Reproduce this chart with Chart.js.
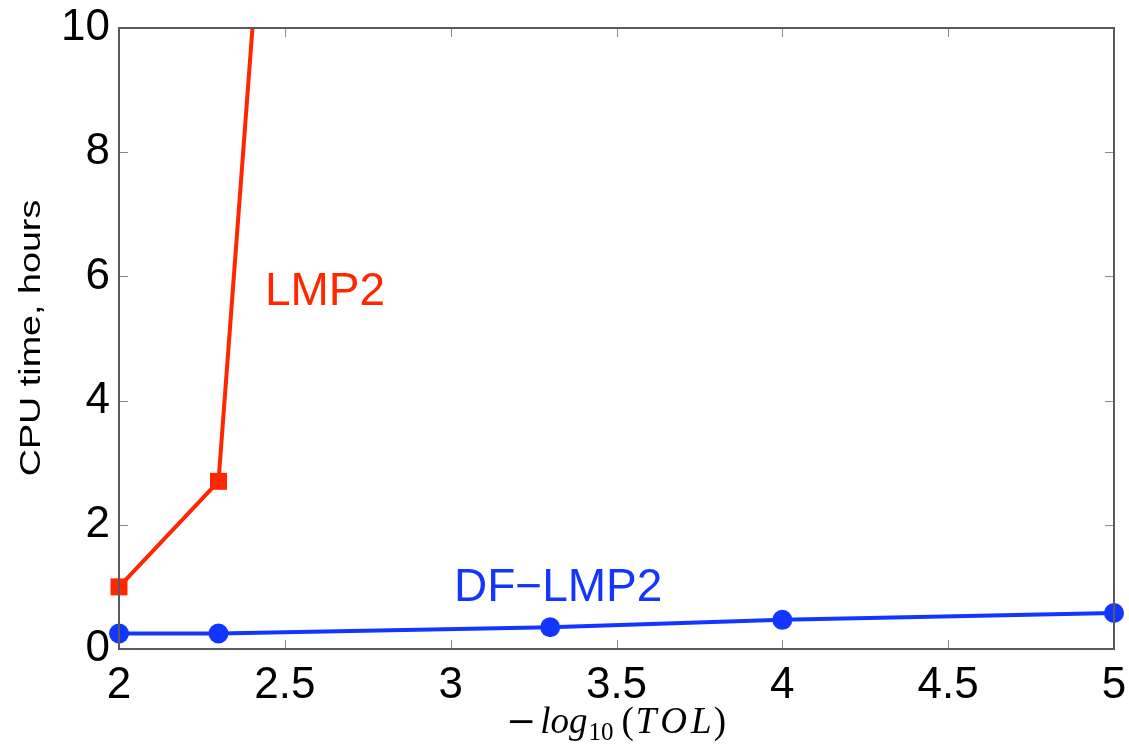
<!DOCTYPE html>
<html>
<head>
<meta charset="utf-8">
<script src="https://cdn.jsdelivr.net/npm/chart.js@4.4.0/dist/chart.umd.min.js"></script>
<style>
  html, body { margin: 0; padding: 0; background: #fff; }
  #wrap { width: 1129px; height: 744px; }
</style>
</head>
<body>
<div id="wrap"><canvas id="grafico" width="1129" height="744"></canvas></div>
<script>
// valores
const tolLmp2 = [2, 2.3, 3.3];
const horasLmp2 = [1.0, 2.7, 74];     // o terceiro ponto sai do gráfico
const tolDf = [2, 2.3, 3.3, 4, 5];
const horasDf = [0.25, 0.25, 0.35, 0.47, 0.58];
const ticksX = [2, 2.5, 3, 3.5, 4, 4.5, 5];
const ticksY = [0, 2, 4, 6, 8, 10];

const VERMELHO = '#ff2600';
const AZUL = '#1236ff';

function pontos(xs, ys) {
  return xs.map((x, i) => ({ x: x, y: ys[i] }));
}

// moldura com ticks para dentro, nos quatro lados
const moldura = {
  id: 'moldura',
  afterDatasetsDraw(chart) {
    const { ctx, chartArea: a, scales } = chart;
    ctx.save();
    ctx.strokeStyle = '#8a8a8a';
    ctx.lineWidth = 1;
    ticksX.forEach(v => {
      const px = Math.round(scales.x.getPixelForValue(v)) + 0.5;
      ctx.beginPath();
      ctx.moveTo(px, a.bottom); ctx.lineTo(px, a.bottom - 9);
      ctx.moveTo(px, a.top); ctx.lineTo(px, a.top + 9);
      ctx.stroke();
    });
    ticksY.forEach(v => {
      const py = Math.round(scales.y.getPixelForValue(v)) + 0.5;
      ctx.beginPath();
      ctx.moveTo(a.left, py); ctx.lineTo(a.left + 9, py);
      ctx.moveTo(a.right, py); ctx.lineTo(a.right - 9, py);
      ctx.stroke();
    });
    ctx.strokeStyle = '#5a5a5a';
    ctx.lineWidth = 2;
    ctx.strokeRect(a.left, a.top, a.right - a.left, a.bottom - a.top);
    ctx.restore();
  }
};

// rótulos das curvas e títulos dos eixos
const textos = {
  id: 'textos',
  afterDraw(chart) {
    const { ctx, scales } = chart;
    ctx.save();
    ctx.textBaseline = 'alphabetic';
    ctx.textAlign = 'left';
    ctx.font = '46px "Liberation Sans", Arial, sans-serif';
    ctx.fillStyle = VERMELHO;
    ctx.fillText('LMP2', scales.x.getPixelForValue(2.44), scales.y.getPixelForValue(5.54));
    ctx.fillStyle = AZUL;
    ctx.fillText('DF\u2212LMP2', scales.x.getPixelForValue(3.01), scales.y.getPixelForValue(0.78));

    // título do eixo y (esticado no comprimento como no original)
    ctx.fillStyle = '#000';
    ctx.font = '29px "Liberation Sans", Arial, sans-serif';
    ctx.save();
    ctx.translate(40, 338);
    ctx.rotate(-Math.PI / 2);
    ctx.scale(1.3, 1);
    ctx.textAlign = 'center';
    ctx.fillText('CPU time, hours', 0, 0);
    ctx.restore();

    // título do eixo x: −log10(TOL)
    const partes = [
      { t: '\u2212', f: '36px "DejaVu Serif", serif', dy: 0, sp: 4 },
      { t: 'log', f: 'italic 37px "Liberation Serif", serif', dy: 0, sp: 1 },
      { t: '10', f: '25px "Liberation Serif", serif', dy: 7, sp: 8 },
      { t: '(', f: '37px "Liberation Serif", serif', dy: 0, sp: 2 },
      { t: 'T', f: 'italic 37px "Liberation Serif", serif', dy: 0, sp: 4 },
      { t: 'O', f: 'italic 37px "Liberation Serif", serif', dy: 0, sp: 4 },
      { t: 'L', f: 'italic 37px "Liberation Serif", serif', dy: 0, sp: 2 },
      { t: ')', f: '37px "Liberation Serif", serif', dy: 0, sp: 0 }
    ];
    let total = 0;
    partes.forEach(p => { ctx.font = p.f; p.w = ctx.measureText(p.t).width + p.sp; total += p.w; });
    let x = 616 - total / 2;
    partes.forEach(p => {
      ctx.font = p.f;
      ctx.fillText(p.t, x, 733 + p.dy);
      x += p.w;
    });
    ctx.restore();
  }
};

const fonteTicks = { family: '"Liberation Sans", Arial, sans-serif', size: 44 };

new Chart(document.getElementById('grafico'), {
  type: 'line',
  data: {
    datasets: [
      {
        label: 'LMP2',
        data: pontos(tolLmp2, horasLmp2),
        borderColor: VERMELHO,
        backgroundColor: VERMELHO,
        borderWidth: 4,
        pointStyle: 'rect',
        pointRadius: 12,
        pointBorderWidth: 0,
        tension: 0,
        clip: { left: 20, right: 20, top: 0, bottom: 20 }
      },
      {
        label: 'DF-LMP2',
        data: pontos(tolDf, horasDf),
        borderColor: AZUL,
        backgroundColor: AZUL,
        borderWidth: 4,
        pointStyle: 'circle',
        pointRadius: 10,
        pointBorderWidth: 0,
        tension: 0,
        clip: false
      }
    ]
  },
  options: {
    responsive: false,
    animation: false,
    events: [],
    layout: { padding: { top: 28, right: 15, left: 0, bottom: 0 } },
    plugins: { legend: { display: false }, tooltip: { enabled: false } },
    scales: {
      x: {
        type: 'linear',
        min: 2, max: 5,
        afterFit(s) { s.height = 95; s.paddingLeft = 0; s.paddingRight = 0; },
        afterBuildTicks(s) { s.ticks = ticksX.map(v => ({ value: v })); },
        grid: { display: false, drawTicks: false },
        border: { display: false },
        ticks: { font: fonteTicks, color: '#000', padding: 10, maxRotation: 0, callback: v => String(v) }
      },
      y: {
        type: 'linear',
        min: 0, max: 10,
        afterFit(s) { s.width = 119; s.paddingTop = 0; s.paddingBottom = 0; },
        afterBuildTicks(s) { s.ticks = ticksY.map(v => ({ value: v })); },
        grid: { display: false, drawTicks: false },
        border: { display: false },
        ticks: { font: fonteTicks, color: '#000', padding: 9, callback: v => String(v) }
      }
    }
  },
  plugins: [moldura, textos]
});
</script>
</body>
</html>
